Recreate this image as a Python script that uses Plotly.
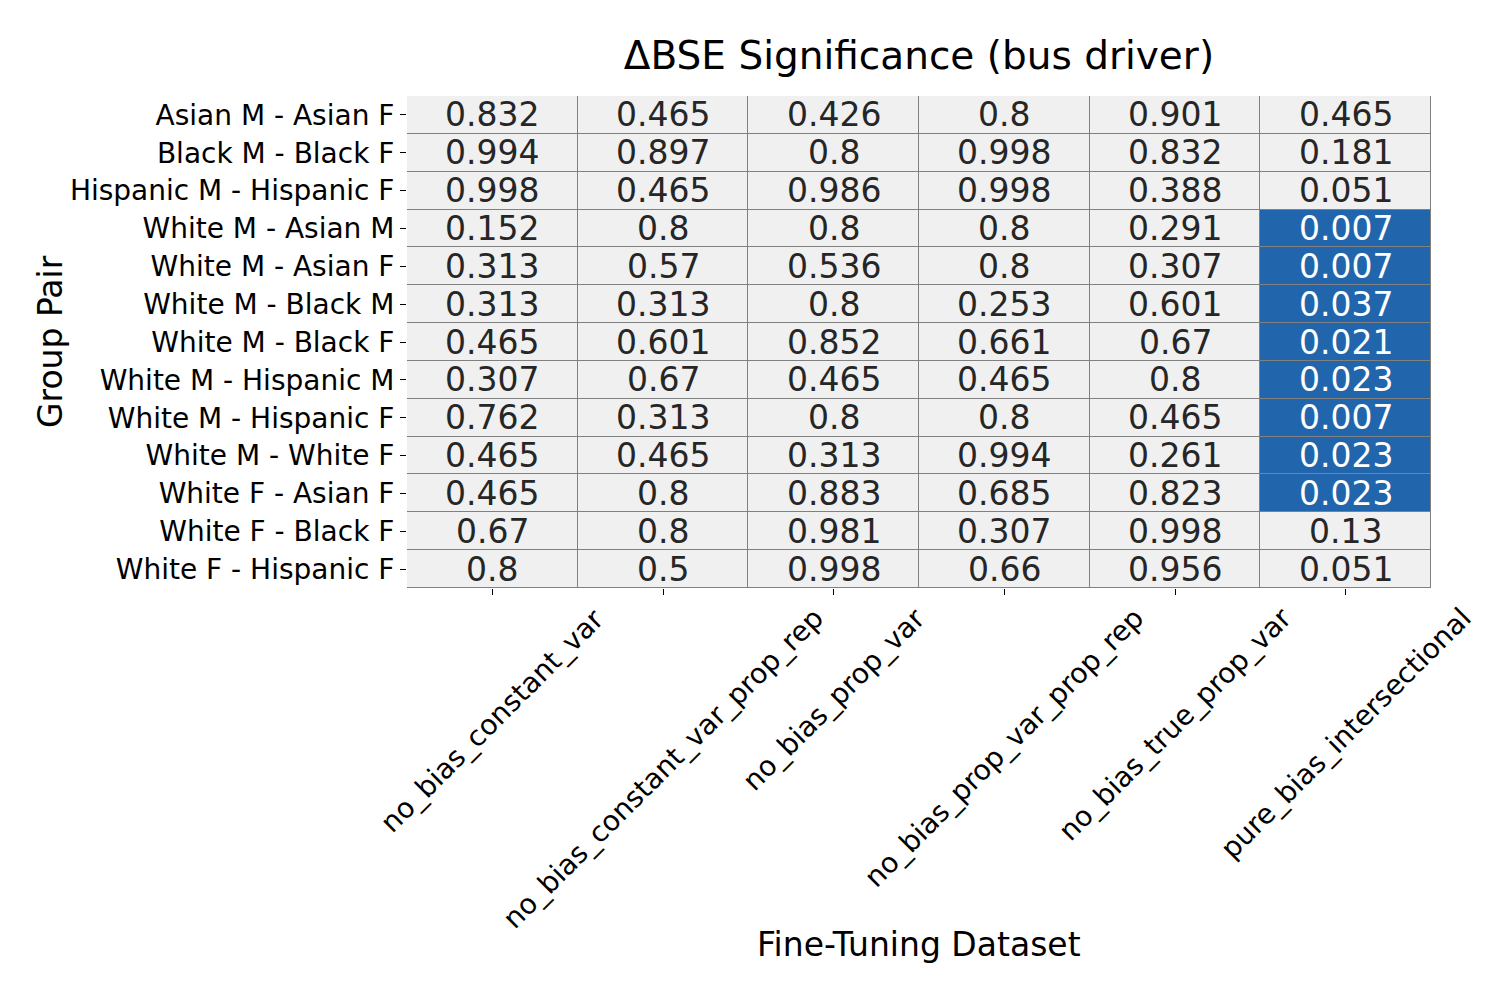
import plotly.graph_objects as go

rows = ["Asian M - Asian F", "Black M - Black F", "Hispanic M - Hispanic F",
        "White M - Asian M", "White M - Asian F", "White M - Black M",
        "White M - Black F", "White M - Hispanic M", "White M - Hispanic F",
        "White M - White F", "White F - Asian F", "White F - Black F",
        "White F - Hispanic F"]
cols = ["no_bias_constant_var", "no_bias_constant_var_prop_rep", "no_bias_prop_var",
        "no_bias_prop_var_prop_rep", "no_bias_true_prop_var", "pure_bias_intersectional"]

no_bias_constant_var = [0.832, 0.994, 0.998, 0.152, 0.313, 0.313, 0.465, 0.307, 0.762, 0.465, 0.465, 0.67, 0.8]
no_bias_constant_var_prop_rep = [0.465, 0.897, 0.465, 0.8, 0.57, 0.313, 0.601, 0.67, 0.313, 0.465, 0.8, 0.8, 0.5]
no_bias_prop_var = [0.426, 0.8, 0.986, 0.8, 0.536, 0.8, 0.852, 0.465, 0.8, 0.313, 0.883, 0.981, 0.998]
no_bias_prop_var_prop_rep = [0.8, 0.998, 0.998, 0.8, 0.8, 0.253, 0.661, 0.465, 0.8, 0.994, 0.685, 0.307, 0.66]
no_bias_true_prop_var = [0.901, 0.832, 0.388, 0.291, 0.307, 0.601, 0.67, 0.8, 0.465, 0.261, 0.823, 0.998, 0.956]
pure_bias_intersectional = [0.465, 0.181, 0.051, 0.007, 0.007, 0.037, 0.021, 0.023, 0.007, 0.023, 0.023, 0.13, 0.051]

series = [no_bias_constant_var, no_bias_constant_var_prop_rep, no_bias_prop_var,
          no_bias_prop_var_prop_rep, no_bias_true_prop_var, pure_bias_intersectional]

ALPHA = 0.05
vals = [[series[j][i] for j in range(len(cols))] for i in range(len(rows))]
z = [[1 if v < ALPHA else 0 for v in r] for r in vals]

FONT = "DejaVu Sans"
BLUE = "#2166ac"
LIGHT = "#f0f0f0"

fig = go.Figure(go.Heatmap(
    z=z, x=cols, y=rows, zmin=0, zmax=1,
    colorscale=[[0, LIGHT], [1, BLUE]], showscale=False,
    xgap=1, ygap=1, hoverinfo="skip"))

annotations = []
for i, r in enumerate(rows):
    for j, c in enumerate(cols):
        v = vals[i][j]
        annotations.append(dict(
            x=c, y=r, xref="x", yref="y", text=f"{v:g}", showarrow=False,
            font=dict(family=FONT, size=33, color="white" if v < ALPHA else "#262626")))

for c in cols:
    annotations.append(dict(
        x=c, y=-0.022, xref="x", yref="paper", text=c, showarrow=False,
        textangle=-45, xanchor="center", yanchor="top",
        font=dict(family=FONT, size=28, color="black")))

annotations.append(dict(x=0.5, y=-0.7256, xref="paper", yref="paper",
                        text="Fine-Tuning Dataset", showarrow=False,
                        xanchor="center", yanchor="middle",
                        font=dict(family=FONT, size=33, color="black")))
annotations.append(dict(x=-0.3486, y=0.5, xref="paper", yref="paper",
                        text="Group Pair", showarrow=False, textangle=-90,
                        xanchor="center", yanchor="middle",
                        font=dict(family=FONT, size=33, color="black")))

fig.update_layout(
    width=1500, height=1000,
    margin=dict(l=399, r=77, t=88, b=420),
    paper_bgcolor="white", plot_bgcolor="#808080",
    title=dict(text="ΔBSE Significance (bus driver)", x=0.5, xref="paper",
               y=0.953, yref="container", xanchor="center", yanchor="middle",
               font=dict(family=FONT, size=39, color="black")),
    annotations=annotations,
    xaxis=dict(showticklabels=False, ticks="outside", ticklen=6, tickcolor="black",
               range=[-0.5, len(cols) - 0.5], autorange=False,
               showgrid=False, zeroline=False, fixedrange=True),
    yaxis=dict(range=[len(rows) - 0.5, -0.5], autorange=False,
               ticks="outside", ticklen=6, tickcolor="black",
               tickfont=dict(family=FONT, size=28, color="black"),
               showgrid=False, zeroline=False, fixedrange=True),
)

fig.write_html("out.html")
